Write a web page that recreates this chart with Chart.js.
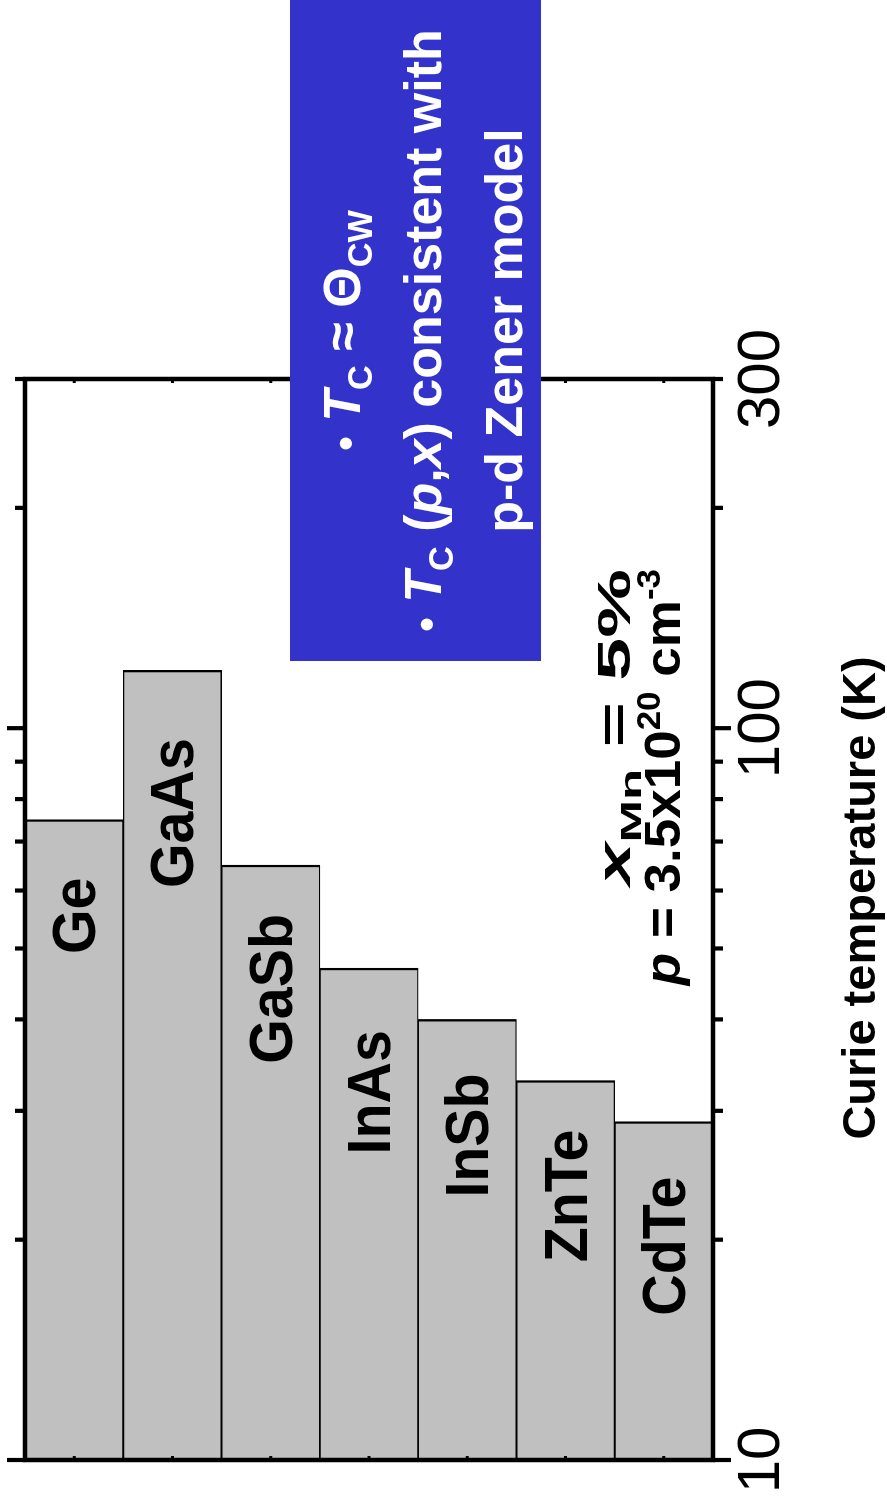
<!DOCTYPE html>
<html>
<head>
<meta charset="utf-8">
<script src="https://cdn.jsdelivr.net/npm/chart.js@4.4.1/dist/chart.umd.min.js"></script>
<style>
  html, body { margin: 0; padding: 0; background: #fff; overflow: hidden; width: 887px; height: 1499px; }
  /* the chart is laid out landscape and turned a quarter turn so it reads bottom-to-top */
  #turn { position: absolute; left: 0; top: 0; width: 1499px; height: 887px;
          transform-origin: 0 0; transform: translate(0px, 1499px) rotate(-90deg); }
  canvas { display: block; }
</style>
</head>
<body>
<div id="turn"><canvas id="tc" width="1499" height="887"></canvas></div>
<script>
// Curie temperatures predicted for 5% Mn and p = 3.5e20 cm^-3
const compounds = ['Ge', 'GaAs', 'GaSb', 'InAs', 'InSb', 'ZnTe', 'CdTe'];
const curieTemperatureK = [75, 120, 65, 47, 40, 33, 29];

// temperature axis
const temperatureRange = [10, 300];
const temperatureTicks = [10, 20, 30, 40, 50, 60, 70, 80, 90, 100, 200, 300];
const labelledTicks = [10, 100, 300];
const majorTicks = [10, 100];

const axisTitle = 'Curie temperature (K)';

const conditionLines = [
  [{ t: 'x', italic: true }, { t: 'Mn', sub: true }, { t: ' = 5%' }],
  [{ t: 'p', italic: true }, { t: ' = 3.5x10' }, { t: '20', sup: true }, { t: ' cm' }, { t: '-3', sup: true }]
];

const noteLines = [
  [{ t: '•', k: 0.8 }, { t: ' ' }, { t: 'T', italic: true }, { t: 'C', sub: true }, { t: ' ≈ ' }, { t: 'Θ' }, { t: 'CW', sub: true }],
  [{ t: '•', k: 0.8 }, { t: ' ' }, { t: 'T', italic: true }, { t: 'C', sub: true }, { t: ' (' },
   { t: 'p', italic: true }, { t: ',' }, { t: 'x', italic: true }, { t: ') consistent with' }],
  [{ t: 'p-d Zener model' }]
];

const FONT = "'Liberation Sans', Arial, Helvetica, sans-serif";

// draws a line made of styled pieces (italic, sub/superscript) from one anchor
function richText(ctx, segs, x, y, o) {
  ctx.save();
  ctx.translate(x, y);
  ctx.scale(o.hscale || 1, 1);
  const parts = segs.map(s => {
    const k = (s.sub || s.sup) ? 0.66 : (s.k || 1);
    const font = (s.italic ? 'italic ' : '') + 'bold ' + (o.size * k) + 'px ' + FONT;
    ctx.font = font;
    const w = ctx.measureText(s.t).width;
    let dy = 0;
    if (s.sub) dy = o.size * 0.24;
    if (s.sup) dy = -o.size * 0.40;
    return { t: s.t, font, w, dy };
  });
  const total = parts.reduce((a, p) => a + p.w, 0);
  let cx = o.align === 'right' ? -total : o.align === 'center' ? -total / 2 : 0;
  ctx.fillStyle = o.color;
  ctx.textAlign = 'left';
  ctx.textBaseline = 'alphabetic';
  parts.forEach(p => { ctx.font = p.font; ctx.fillText(p.t, cx, p.dy); cx += p.w; });
  ctx.restore();
}

const decorations = {
  id: 'decorations',
  afterDatasetsDraw(chart, args, o) {
    const { ctx, chartArea: a, scales: { x, y } } = chart;
    const meta = chart.getDatasetMeta(0);

    // compound names inside the bars, near their ends
    meta.data.forEach((bar, i) => {
      ctx.save();
      ctx.translate(bar.x - o.nameInset[i], bar.y + o.nameBaseline);
      ctx.scale(o.nameScale, 1);
      ctx.font = 'bold ' + o.nameSize + 'px ' + FONT;
      ctx.textAlign = 'right';
      ctx.textBaseline = 'alphabetic';
      ctx.fillStyle = '#000';
      ctx.fillText(compounds[i], 0, 0);
      ctx.restore();
    });

    ctx.save();
    ctx.strokeStyle = '#000';
    ctx.lineCap = 'butt';
    // plot frame
    ctx.lineWidth = 4.5;
    ctx.strokeRect(a.left, a.top, a.right - a.left, a.bottom - a.top);
    // temperature ticks pointing outward on both long edges
    ctx.lineWidth = 4.2;
    temperatureTicks.forEach(v => {
      const px = x.getPixelForValue(v);
      const len = majorTicks.includes(v) ? 18 : 10;
      ctx.beginPath();
      ctx.moveTo(px, a.top); ctx.lineTo(px, a.top - len);
      ctx.moveTo(px, a.bottom); ctx.lineTo(px, a.bottom + len);
      ctx.stroke();
    });
    // short compound ticks pointing inward
    ctx.lineWidth = 3;
    compounds.forEach((c, i) => {
      const py = y.getPixelForValue(i);
      ctx.beginPath();
      ctx.moveTo(a.left, py); ctx.lineTo(a.left + 4, py);
      ctx.moveTo(a.right, py); ctx.lineTo(a.right - 4, py);
      ctx.stroke();
    });
    ctx.restore();
  },
  afterDraw(chart, args, o) {
    const { ctx } = chart;

    // axis title
    ctx.save();
    ctx.font = 'bold ' + o.titleSize + 'px ' + FONT;
    ctx.fillStyle = '#000';
    ctx.textAlign = 'center';
    ctx.textBaseline = 'alphabetic';
    ctx.fillText(axisTitle, o.titleAt[0], o.titleAt[1]);
    ctx.restore();

    // doping conditions
    conditionLines.forEach((line, i) => {
      richText(ctx, line, o.condRight, o.condBase[i],
               { size: o.condSize[i], hscale: o.condScale[i], align: 'right', color: '#000' });
    });

    // blue note box
    const b = o.box;
    ctx.save();
    ctx.fillStyle = '#3333cc';
    ctx.fillRect(b.x, b.y, b.w, b.h);
    ctx.restore();
    noteLines.forEach((line, i) => {
      richText(ctx, line, b.x + b.w / 2, o.noteBase + i * o.noteStep,
               { size: o.noteSize, hscale: 1, align: 'center', color: '#fff' });
    });
  }
};

new Chart(document.getElementById('tc'), {
  type: 'bar',
  data: {
    labels: compounds,
    datasets: [{
      data: curieTemperatureK,
      backgroundColor: '#c0c0c0',
      borderColor: '#000',
      borderWidth: { top: 1.3, bottom: 1.3, right: 2.4, left: 0 },
      borderSkipped: false,
      categoryPercentage: 1,
      barPercentage: 1
    }]
  },
  options: {
    indexAxis: 'y',
    responsive: false,
    animation: false,
    devicePixelRatio: 1,
    layout: { padding: { left: 39, right: 379, top: 25, bottom: 0 } },
    plugins: {
      legend: { display: false },
      tooltip: { enabled: false },
      decorations: {
        nameSize: 61,
        nameScale: 0.94,
        nameBaseline: 21,
        nameInset: [58, 68, 49, 62, 54, 49, 55],
        titleSize: 47,
        titleAt: [601, 875],
        condSize: [46, 50],
        condScale: [1.68, 1.06],
        condRight: 930,
        condBase: [630, 680],
        box: { x: 838, y: 290, w: 661, h: 251 },
        noteSize: 52,
        noteBase: 360,
        noteStep: 81
      }
    },
    scales: {
      x: {
        type: 'logarithmic',
        min: temperatureRange[0],
        max: temperatureRange[1],
        position: 'bottom',
        grid: { display: false, drawTicks: false },
        border: { display: false },
        afterBuildTicks: s => { s.ticks = temperatureTicks.map(v => ({ value: v })); },
        afterFit: s => { s.height = 174; s.paddingLeft = 0; s.paddingRight = 0; },
        ticks: {
          autoSkip: false,
          maxRotation: 0,
          minRotation: 0,
          padding: 19,
          color: '#000',
          font: { family: FONT, size: 60, lineHeight: 1 },
          callback: v => labelledTicks.includes(v) ? String(v) : ''
        }
      },
      y: { type: 'category', display: false, offset: true }
    }
  },
  plugins: [decorations]
});
</script>
</body>
</html>
